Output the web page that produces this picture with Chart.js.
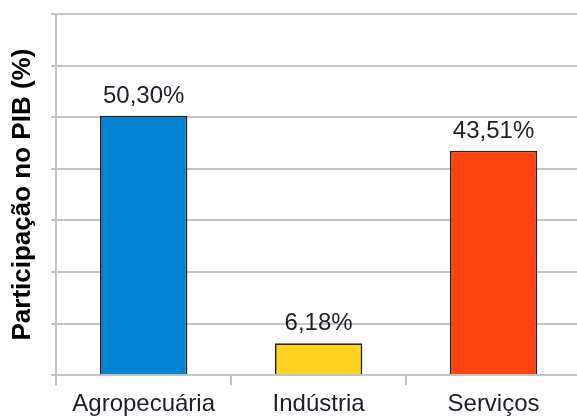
<!DOCTYPE html>
<html>
<head>
<meta charset="utf-8">
<script src="https://cdn.jsdelivr.net/npm/chart.js@4/dist/chart.umd.min.js"></script>
<style>
  html, body { margin: 0; padding: 0; background: #fff; overflow: hidden; }
  #wrap { width: 582px; height: 424px; position: relative; }
</style>
</head>
<body>
<div id="wrap"><canvas id="pibChart"></canvas></div>
<script>
// Participação dos setores no PIB
const setores = ['Agropecuária', 'Indústria', 'Serviços'];
const participacao = [50.30, 6.18, 43.51];
const cores = ['#0084d1', '#ffd320', '#ff420e'];
const yTicks = [0, 10, 20, 30, 40, 50, 60, 70];

const fonte = 'Liberation Sans, Arial, sans-serif';

// rótulos de valor acima das barras
const valorLabels = {
    id: 'valorLabels',
    afterDatasetsDraw(chart) {
        const ctx = chart.ctx;
        const meta = chart.getDatasetMeta(0);
        ctx.save();
        ctx.font = '24px ' + fonte;
        ctx.fillStyle = '#1e1e28';
        ctx.textAlign = 'center';
        ctx.textBaseline = 'alphabetic';
        meta.data.forEach((bar, i) => {
            const txt = participacao[i].toFixed(2).replace('.', ',') + '%';
            ctx.fillText(txt, bar.x, bar.y - 13);
        });
        ctx.restore();
    }
};

const pibCtx = document.getElementById('pibChart').getContext('2d');
const pibChart = new Chart(pibCtx, {
    type: 'bar',
    data: {
        labels: setores,
        datasets: [{
            data: participacao,
            backgroundColor: cores,
            borderColor: '#222',
            borderWidth: 1.8,
            barPercentage: 0.5,
            categoryPercentage: 1
        }]
    },
    options: {
        responsive: true,
        maintainAspectRatio: false,
        animation: false,
        layout: { padding: { left: 7, top: 14, right: 1, bottom: 0 } },
        plugins: {
            legend: { display: false },
            tooltip: { enabled: false }
        },
        scales: {
            x: {
                grid: {
                    color: '#c4c4c4',
                    lineWidth: 2,
                    drawOnChartArea: false,
                    tickLength: 10
                },
                border: { color: '#c4c4c4', width: 2 },
                ticks: {
                    color: '#1e1e28',
                    font: { family: fonte, size: 24 },
                    padding: 5,
                    maxRotation: 0
                }
            },
            y: {
                min: 0,
                max: 70,
                afterBuildTicks(axis) {
                    axis.ticks = yTicks.map(v => ({ value: v }));
                },
                grid: {
                    color: '#c4c4c4',
                    lineWidth: 2,
                    tickLength: 5
                },
                border: { color: '#c4c4c4', width: 2 },
                ticks: { display: false },
                title: {
                    display: true,
                    text: 'Participação no PIB (%)',
                    color: '#000',
                    font: { family: fonte, size: 26, weight: 'bold' },
                    padding: { top: 0, bottom: 13 }
                }
            }
        }
    },
    plugins: [valorLabels]
});
</script>
</body>
</html>
